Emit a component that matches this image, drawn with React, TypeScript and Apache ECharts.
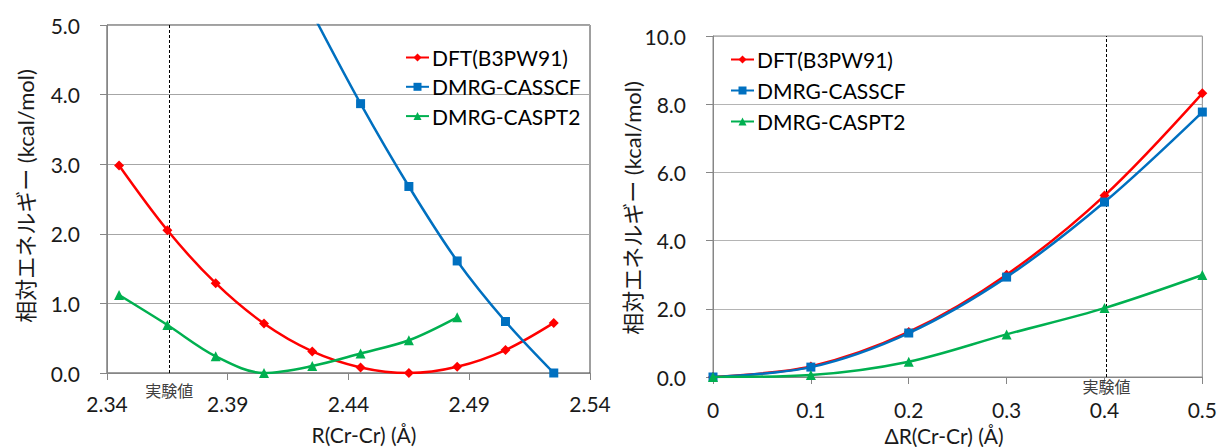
import React, { useEffect, useRef } from 'react';
import * as echarts from 'echarts';

// ---------- data ----------
const R_MIN = 2.34;
const R_MAX = 2.54;
const R_STEP = 0.05;
const R_EXP = 2.3658;

const dftLeftR = [2.345, 2.365, 2.385, 2.405, 2.425, 2.445, 2.465, 2.485, 2.505, 2.525];
const dftLeft = [2.98, 2.05, 1.29, 0.71, 0.31, 0.08, 0.0, 0.09, 0.33, 0.72];
const casscfLeftR = [2.425, 2.445, 2.465, 2.485, 2.505, 2.525];
const casscfLeft = [5.17, 3.87, 2.68, 1.61, 0.74, 0.0];
const caspt2LeftR = [2.345, 2.365, 2.385, 2.405, 2.425, 2.445, 2.465, 2.485];
const caspt2Left = [1.12, 0.69, 0.24, 0.0, 0.1, 0.28, 0.47, 0.8];

const DR_MIN = 0;
const DR_MAX = 0.5;
const DR_STEP = 0.1;
const DR_EXP = 0.402;
const dR = [0, 0.1, 0.2, 0.3, 0.4, 0.5];
const dftRight = [0, 0.31, 1.32, 3.0, 5.32, 8.32];
const casscfRight = [0, 0.29, 1.29, 2.93, 5.13, 7.77];
const caspt2Right = [0, 0.06, 0.45, 1.25, 2.02, 2.99];

const Y_LEFT_MAX = 5;
const Y_LEFT_STEP = 1;
const Y_RIGHT_MAX = 10;
const Y_RIGHT_STEP = 2;

const seriesNames = ['DFT(B3PW91)', 'DMRG-CASSCF', 'DMRG-CASPT2'];
const colors = ['#FF0000', '#0070C0', '#00B050'];
const symbols = ['diamond', 'rect', 'triangle'];
const symbolSizes = [10, 9, 10];

const EXP_LABEL = '実験値';
const Y_TITLE = '相対エネルギー (kcal/mol)';
const X_TITLE_LEFT = 'R(Cr-Cr) (Å)';
const X_TITLE_RIGHT = 'ΔR(Cr-Cr) (Å)';

const FONT = 'Lato, "Noto Sans CJK JP", sans-serif';
const TEXT = '#1a1a1a';

function pairs(xs: number[], ys: number[], off: number) {
  return xs.map((x, i) => [x - off, ys[i]]);
}

function makeSeries(
  idx: number,
  data: number[][],
  axisIdx: number,
  markX?: number
): any {
  const s: any = {
    name: seriesNames[idx],
    type: 'line',
    xAxisIndex: axisIdx,
    yAxisIndex: axisIdx,
    data,
    smooth: 0.33,
    symbol: symbols[idx],
    symbolSize: symbolSizes[idx],
    showAllSymbol: true,
    clip: true,
    lineStyle: { color: colors[idx], width: 2.5 },
    itemStyle: { color: colors[idx] },
    z: 3 + idx,
  };
  if (markX !== undefined) {
    s.markLine = {
      silent: true,
      precision: 6,
      symbol: ['none', 'none'],
      label: { show: false },
      lineStyle: { color: '#000', width: 1, type: [3, 2] },
      data: [{ xAxis: markX }],
      z: 1,
    };
  }
  return s;
}

function axisCommon() {
  return {
    axisLine: { show: true, onZero: false, lineStyle: { color: '#868686', width: 1 } },
    axisTick: { show: true, inside: false, length: 7, lineStyle: { color: '#868686' } },
  };
}

export default function App() {
  const ref = useRef<HTMLDivElement>(null);

  useEffect(() => {
    if (!ref.current) return;
    const chart = echarts.init(ref.current, undefined, { renderer: 'svg' });

    const legendCommon = {
      orient: 'vertical',
      padding: 0,
      itemWidth: 23,
      itemHeight: 10,
      data: seriesNames,
      textStyle: { fontSize: 21, fontFamily: FONT, color: '#000', padding: [0, 0, 0, -2] },
    };

    const option: any = {
      animation: false,
      backgroundColor: '#ffffff',
      textStyle: { fontFamily: FONT },
      grid: [
        { left: 107, top: 25, width: 483, height: 348, show: true, borderColor: '#404040', borderWidth: 1, backgroundColor: 'transparent' },
        { left: 713, top: 36, width: 490, height: 341, show: true, borderColor: '#8c8c8c', borderWidth: 1, backgroundColor: 'transparent' },
      ],
      xAxis: [
        {
          type: 'value',
          gridIndex: 0,
          min: 0,
          max: R_MAX - R_MIN,
          interval: R_STEP,
          ...axisCommon(),
          splitLine: { show: false },
          axisLabel: {
            formatter: (v: number) => (R_MIN + v).toFixed(2),
            margin: 20,
            fontSize: 21,
            fontFamily: FONT,
            color: TEXT,
            showMaxLabel: true,
            showMinLabel: true,
          },
        },
        {
          type: 'value',
          gridIndex: 1,
          min: DR_MIN,
          max: DR_MAX,
          interval: DR_STEP,
          ...axisCommon(),
          splitLine: { show: false },
          axisLabel: {
            formatter: (v: number) => (Math.abs(v) < 1e-9 ? '0' : v.toFixed(1)),
            margin: 22,
            fontSize: 21,
            fontFamily: FONT,
            color: TEXT,
            showMaxLabel: true,
            showMinLabel: true,
          },
        },
      ],
      yAxis: [
        {
          type: 'value',
          gridIndex: 0,
          min: 0,
          max: Y_LEFT_MAX,
          interval: Y_LEFT_STEP,
          ...axisCommon(),
          splitLine: { show: true, lineStyle: { color: '#a6a6a6', width: 1 } },
          axisLabel: {
            formatter: (v: number) => v.toFixed(1),
            margin: 27,
            fontSize: 21,
            fontFamily: FONT,
            color: TEXT,
          },
        },
        {
          type: 'value',
          gridIndex: 1,
          min: 0,
          max: Y_RIGHT_MAX,
          interval: Y_RIGHT_STEP,
          ...axisCommon(),
          splitLine: { show: true, lineStyle: { color: '#b4b4b4', width: 1 } },
          axisLabel: {
            formatter: (v: number) => v.toFixed(1),
            margin: 27,
            fontSize: 21,
            fontFamily: FONT,
            color: TEXT,
          },
        },
      ],
      legend: [
        { ...legendCommon, left: 405, top: 47, itemGap: 8.3 },
        { ...legendCommon, left: 730, top: 49, itemGap: 10 },
      ],
      series: [
        makeSeries(0, pairs(dftLeftR, dftLeft, R_MIN), 0, R_EXP - R_MIN),
        makeSeries(1, pairs(casscfLeftR, casscfLeft, R_MIN), 0),
        makeSeries(2, pairs(caspt2LeftR, caspt2Left, R_MIN), 0),
        makeSeries(0, pairs(dR, dftRight, 0), 1, DR_EXP),
        makeSeries(1, pairs(dR, casscfRight, 0), 1),
        makeSeries(2, pairs(dR, caspt2Right, 0), 1),
      ],
    };

    chart.setOption(option);

    const lx = chart.convertToPixel({ xAxisIndex: 0 }, R_EXP - R_MIN) as number;
    const ly = chart.convertToPixel({ yAxisIndex: 0 }, 0) as number;
    const rx = chart.convertToPixel({ xAxisIndex: 1 }, DR_EXP) as number;
    const ry = chart.convertToPixel({ yAxisIndex: 1 }, 0) as number;

    const expStyle = (text: string) => ({
      text,
      font: '16px "Noto Sans CJK JP", sans-serif',
      fill: '#404040',
      align: 'center',
      verticalAlign: 'middle',
    });
    const titleStyle = (text: string, size: number) => ({
      text,
      font: `${size}px Lato, "Noto Sans CJK JP", sans-serif`,
      fill: TEXT,
      align: 'center',
      verticalAlign: 'middle',
    });

    chart.setOption({
      graphic: [
        { type: 'text', x: lx, y: ly + 17, style: expStyle(EXP_LABEL), z: 10 },
        { type: 'text', x: rx, y: ry + 9, style: expStyle(EXP_LABEL), z: 10 },
        { type: 'text', x: 364, y: 434, style: titleStyle(X_TITLE_LEFT, 21) },
        { type: 'text', x: 944, y: 435, style: titleStyle(X_TITLE_RIGHT, 21) },
        { type: 'text', x: 25, y: 196, rotation: Math.PI / 2, style: titleStyle(Y_TITLE, 22) },
        { type: 'text', x: 632, y: 208, rotation: Math.PI / 2, style: titleStyle(Y_TITLE, 22) },
      ],
    });

    return () => {
      chart.dispose();
    };
  }, []);

  return (
    <div
      ref={ref}
      style={{ position: 'fixed', left: 0, top: 0, width: 1220, height: 447, background: '#fff' }}
    />
  );
}
